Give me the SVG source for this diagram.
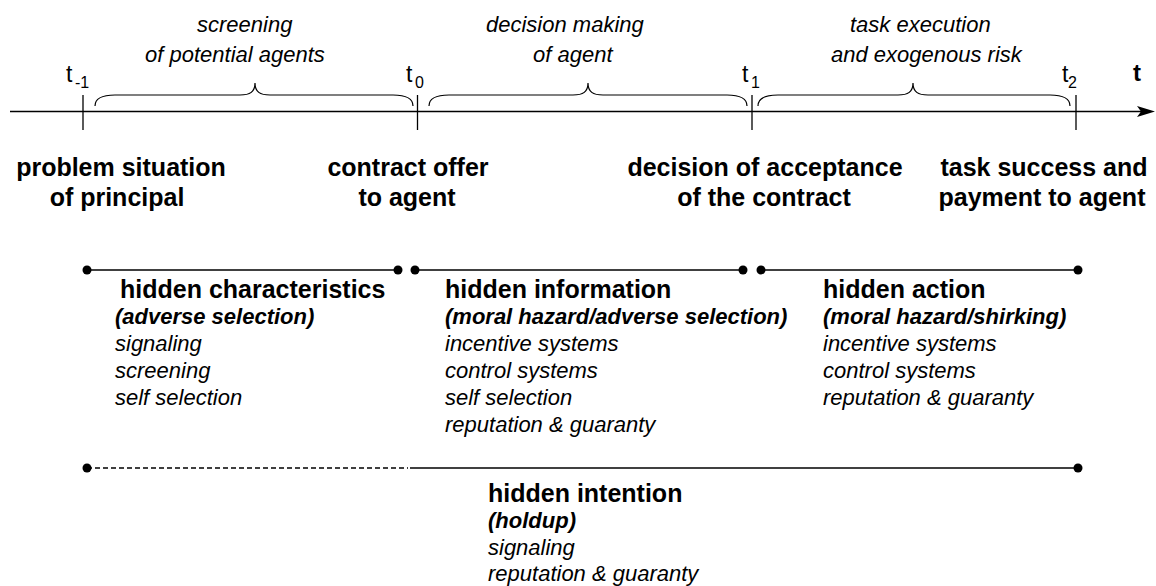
<svg xmlns="http://www.w3.org/2000/svg" width="1156" height="586" viewBox="0 0 1156 586">
<style>
text{font-family:"Liberation Sans",Arial,Helvetica,sans-serif;fill:#000}
.ph{font-size:22px;font-style:italic}
.tl{font-size:23px}
.sub{font-size:16px}
.ev{font-size:25px;font-weight:bold;text-anchor:middle}
.hd{font-size:25px;font-weight:bold}
.bi{font-size:22px;font-weight:bold;font-style:italic}
.it{font-size:22px;font-style:italic}
.ln{stroke:#000;stroke-width:1.3;fill:none}
.br{stroke:#000;stroke-width:1.2;fill:none}
.dot{fill:#000}
</style>
<rect width="1156" height="586" fill="#fff"/>
<g id="axis">
<line class="ln" x1="10" y1="111.5" x2="1142" y2="111.5"/>
<path d="M1155,111.5 L1137,106 L1141,111.5 L1137,117 Z" fill="#000"/>
<line class="ln" x1="83" y1="95" x2="83" y2="130"/>
<line class="ln" x1="417.5" y1="95" x2="417.5" y2="130"/>
<line class="ln" x1="752" y1="95" x2="752" y2="130"/>
<line class="ln" x1="1076" y1="95" x2="1076" y2="130"/>
<text class="tl" x="66" y="82">t<tspan class="sub" x="75" y="88">-1</tspan></text>
<text class="tl" x="406" y="82">t<tspan class="sub" x="415" y="88">0</tspan></text>
<text class="tl" x="742" y="82">t<tspan class="sub" x="751" y="88">1</tspan></text>
<text class="tl" x="1062" y="82">t<tspan class="sub" x="1068" y="88">2</tspan></text>
<text x="1133" y="81" style="font-size:24px;font-weight:bold">t</text>
</g>
<g id="braces">
<path class="br" d="M95,106 C95,99 102,95 115,95 L240,95 C250,95 255,92 255,83 C255,92 260,95 270,95 L393,95 C406,95 413,99 413,106"/>
<path class="br" d="M429,106 C429,99 436,95 449,95 L573,95 C583,95 588,92 588,83 C588,92 593,95 603,95 L727,95 C740,95 747,99 747,106"/>
<path class="br" d="M758,106 C758,99 765,95 778,95 L898,95 C908,95 913,92 913,83 C913,92 918,95 928,95 L1050,95 C1063,95 1070,99 1070,106"/>
</g>
<g id="phase-screening">
<text class="ph" x="197" y="32">screening</text>
<text class="ph" x="145" y="62">of potential agents</text>
</g>
<g id="phase-decision">
<text class="ph" x="486" y="32">decision making</text>
<text class="ph" x="533" y="62">of agent</text>
</g>
<g id="phase-task">
<text class="ph" x="850" y="32">task execution</text>
<text class="ph" x="831" y="62">and exogenous risk</text>
</g>
<g id="event-t-1">
<text class="ev" x="121" y="176">problem situation</text>
<text class="ev" x="117" y="206">of principal</text>
</g>
<g id="event-t0">
<text class="ev" x="408" y="176">contract offer</text>
<text class="ev" x="407" y="206">to agent</text>
</g>
<g id="event-t1">
<text class="ev" x="765" y="176">decision of acceptance</text>
<text class="ev" x="764" y="206">of the contract</text>
</g>
<g id="event-t2">
<text class="ev" x="1044" y="176">task success and</text>
<text class="ev" x="1042" y="206">payment to agent</text>
</g>
<g id="connectors">
<line class="ln" x1="87" y1="270" x2="398" y2="270"/>
<circle class="dot" cx="87" cy="270" r="4.5"/>
<circle class="dot" cx="398" cy="270" r="4.5"/>
<line class="ln" x1="415" y1="270" x2="743" y2="270"/>
<circle class="dot" cx="415" cy="270" r="4.5"/>
<circle class="dot" cx="743" cy="270" r="4.5"/>
<line class="ln" x1="761" y1="270" x2="1078" y2="270"/>
<circle class="dot" cx="761" cy="270" r="4.5"/>
<circle class="dot" cx="1078" cy="270" r="4.5"/>
<line class="ln" x1="87" y1="468" x2="408" y2="468" stroke-dasharray="5,3"/>
<line class="ln" x1="410" y1="468" x2="1078" y2="468"/>
<circle class="dot" cx="87" cy="468" r="4.5"/>
<circle class="dot" cx="1078" cy="468" r="4.5"/>
</g>
<g id="hidden-characteristics">
<text class="hd" x="120" y="298">hidden characteristics</text>
<text class="bi" x="115" y="324">(adverse selection)</text>
<text class="it" x="115" y="351">signaling</text>
<text class="it" x="115" y="378">screening</text>
<text class="it" x="115" y="405">self selection</text>
</g>
<g id="hidden-information">
<text class="hd" x="445" y="298">hidden information</text>
<text class="bi" x="445" y="324">(moral hazard/adverse selection)</text>
<text class="it" x="445" y="351">incentive systems</text>
<text class="it" x="445" y="378">control systems</text>
<text class="it" x="445" y="405">self selection</text>
<text class="it" x="445" y="432">reputation &amp; guaranty</text>
</g>
<g id="hidden-action">
<text class="hd" x="823" y="298">hidden action</text>
<text class="bi" x="823" y="324">(moral hazard/shirking)</text>
<text class="it" x="823" y="351">incentive systems</text>
<text class="it" x="823" y="378">control systems</text>
<text class="it" x="823" y="405">reputation &amp; guaranty</text>
</g>
<g id="hidden-intention">
<text class="hd" x="488" y="502">hidden intention</text>
<text class="bi" x="488" y="528">(holdup)</text>
<text class="it" x="488" y="555">signaling</text>
<text class="it" x="488" y="581">reputation &amp; guaranty</text>
</g>
</svg>
